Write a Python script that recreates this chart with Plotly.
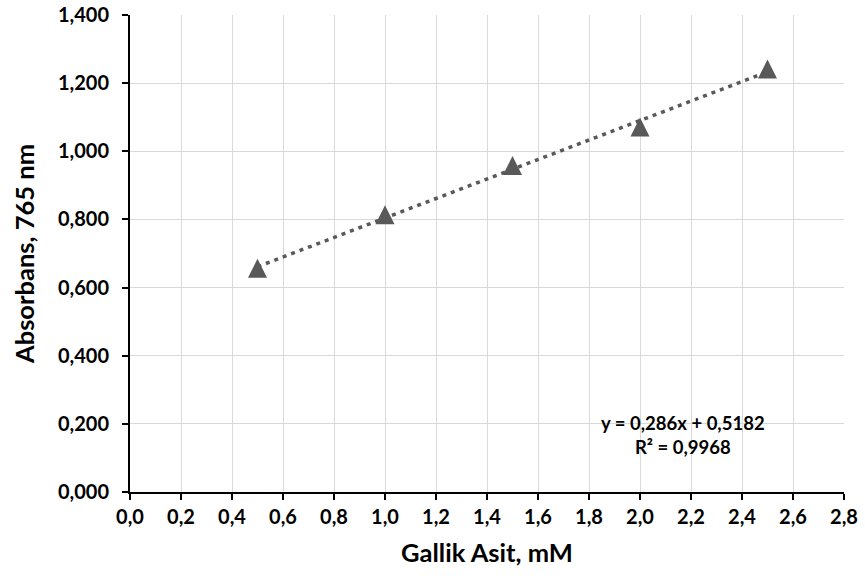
import plotly.graph_objects as go

concentration = [0.5, 1.0, 1.5, 2.0, 2.5]
absorbance = [0.655, 0.812, 0.957, 1.070, 1.240]
slope = 0.286
intercept = 0.5182
r_squared = 0.9968

x_ticks = [0.0, 0.2, 0.4, 0.6, 0.8, 1.0, 1.2, 1.4, 1.6, 1.8, 2.0, 2.2, 2.4, 2.6, 2.8]
y_ticks = [0.0, 0.2, 0.4, 0.6, 0.8, 1.0, 1.2, 1.4]

trend_x = [concentration[0], concentration[-1]]
trend_y = [slope * v + intercept for v in trend_x]

font_family = "Lato, 'Open Sans', sans-serif"
grey = "#595959"

fig = go.Figure()
fig.add_trace(go.Scatter(
    x=trend_x, y=trend_y, mode="lines",
    line=dict(color=grey, width=3.5, dash="4px,5px"),
    hoverinfo="skip", showlegend=False,
))
# tall triangle: an arrow glyph flipped to point up and centred on the point
fig.add_trace(go.Scatter(
    x=concentration, y=absorbance, mode="markers",
    marker=dict(symbol="arrow-down", angle=180, size=19, standoff=10, color=grey,
                line=dict(width=0)),
    showlegend=False,
))

fig.add_annotation(
    x=2.17, y=0.166, xref="x", yref="y",
    text=f"y = {str(slope).replace('.', ',')}x + {str(intercept).replace('.', ',')}<br>R² = {str(r_squared).replace('.', ',')}",
    showarrow=False, align="center",
    font=dict(family=font_family, size=18.5, color="#000", weight="bold"),
)

tick_font = dict(family=font_family, size=20, color="#000", weight="bold")
title_font = dict(family=font_family, size=25.5, color="#000", weight="bold")

axis_common = dict(
    showline=True, linecolor="black", linewidth=2,
    ticks="outside", tickcolor="black", ticklen=6, tickwidth=2,
    showgrid=True, gridcolor="#d9d9d9", gridwidth=1,
    zeroline=False, automargin=False,
    tickfont=tick_font, ticklabeloverflow="allow",
)

fig.update_layout(
    width=865, height=581,
    margin=dict(l=130, r=21, t=15, b=89),
    plot_bgcolor="white", paper_bgcolor="white",
    separators=", ",
    xaxis=dict(
        range=[0, 2.8], tickmode="array", tickvals=x_ticks, tickformat=".1f",
        title=dict(text="Gallik Asit, mM", font=title_font, standoff=17),
        **axis_common,
    ),
    yaxis=dict(
        range=[0, 1.4], tickmode="array", tickvals=y_ticks, tickformat=".3f",
        ticklabelstandoff=9,
        title=dict(text="Absorbans, 765 nm", font=title_font, standoff=16),
        **axis_common,
    ),
)

# remove the page's default body margin so the figure sits at the window origin
fig.write_html("out.html", config={"displayModeBar": False},
               post_script="document.body.style.margin='0';")
